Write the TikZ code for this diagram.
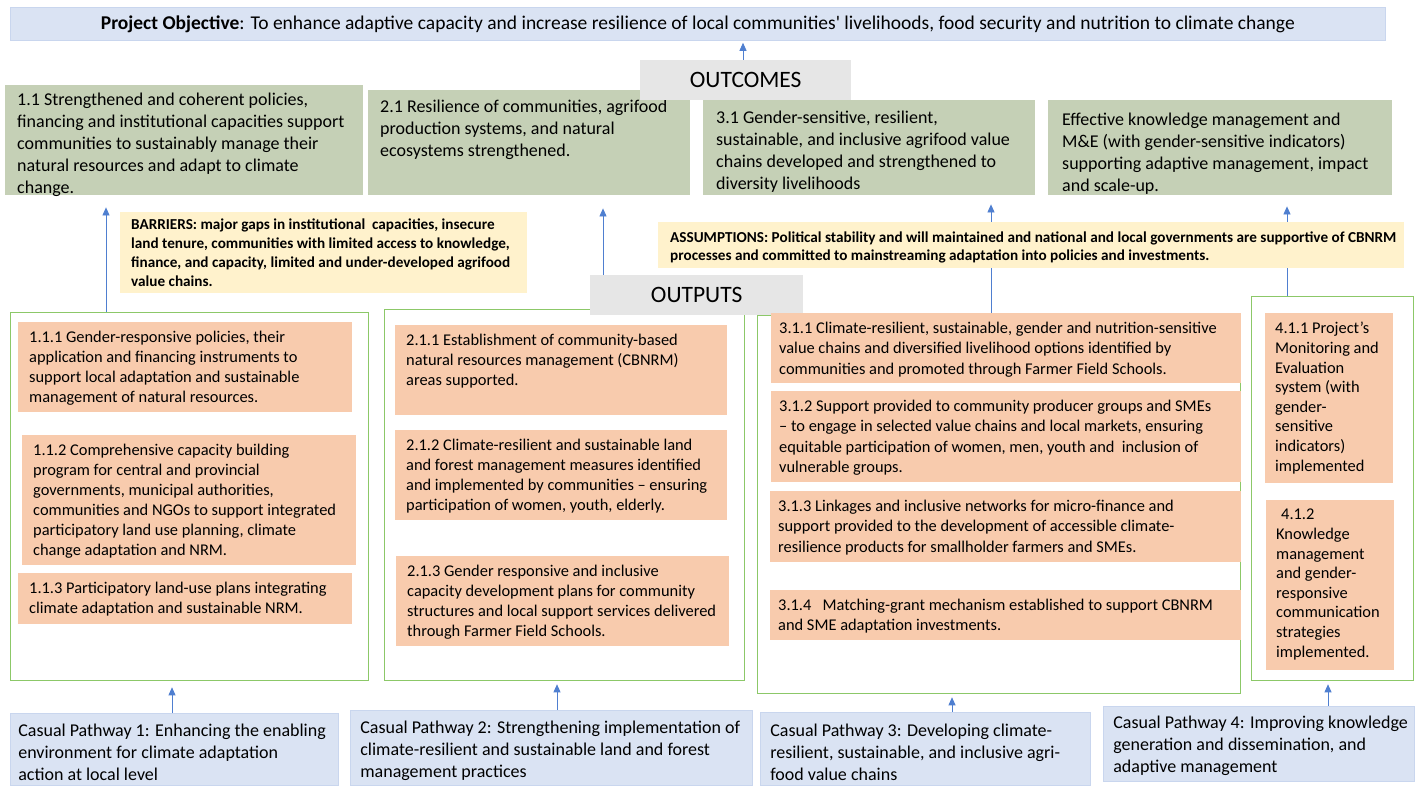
\documentclass[tikz,border=0pt]{standalone}
\usepackage{fontspec}
\setmainfont{Carlito}
\newfontfamily\plainq{Carlito}[Ligatures=ResetAll]
\usetikzlibrary{arrows.meta,calc}
\definecolor{objblue}{HTML}{DAE3F3}
\definecolor{objedge}{HTML}{C9D6EE}
\definecolor{outgreen}{HTML}{C5D0B6}
\definecolor{hdrgray}{HTML}{E6E6E6}
\definecolor{outorange}{HTML}{F8CBAD}
\definecolor{noteyellow}{HTML}{FFF2CC}
\definecolor{grpgreen}{HTML}{8CC868}
\definecolor{arrblue}{HTML}{4F7FD0}
\pgfdeclarelayer{back}\pgfdeclarelayer{bg}\pgfsetlayers{back,bg,main}
% style, name, x, y, w, h, padx, pady, text
\newcommand\bx[9]{\node[#1,anchor=north west,inner xsep=#7pt,inner ysep=#8pt] (#2) at (#3,#4)
 {\parbox[t][\dimexpr #6pt-#8pt-#8pt\relax][t]{\dimexpr #5pt-#7pt-#7pt\relax}{\begin{tabular}[t]{@{}l@{}}#9\end{tabular}}};}
\begin{document}
\begin{tikzpicture}[x=1pt,y=-1pt,
  objbox/.style={fill=objblue,draw=objedge,line width=0.8pt,inner sep=0pt,anchor=north west,font=\fontsize{19.5}{23}\selectfont},
  outcbox/.style={fill=outgreen,font=\fontsize{18}{22}\selectfont},
  hdrbox/.style={fill=hdrgray,inner sep=0pt,anchor=north west,font=\fontsize{23.5}{27}\selectfont},
  notebox/.style={fill=noteyellow,font=\fontsize{15.2}{19}\selectfont\bfseries},
  noteboxb/.style={fill=noteyellow,font=\fontsize{15.2}{18}\selectfont\bfseries},
  outpbox/.style={fill=outorange,font=\fontsize{16.4}{20}\selectfont},
  outpboxb/.style={fill=outorange,font=\fontsize{16.4}{20.3}\selectfont},
  outpboxc/.style={fill=outorange,font=\fontsize{16.4}{19.6}\selectfont},
  grpbox/.style={draw=grpgreen,line width=1.3pt,inner sep=0pt,anchor=north west},
  pathbox/.style={fill=objblue,draw=objedge,line width=0.6pt,font=\fontsize{18}{22}\selectfont},
  arr/.style={draw=arrblue,line width=0.8pt,-{Triangle[width=7pt,length=8pt]}}
]
\useasboundingbox (0,0) rectangle (1424,785);
\begin{pgfonlayer}{back}
\fill[white] (0,0) rectangle (1424,785);
\end{pgfonlayer}

% objective
\node[objbox,minimum width=1375pt,minimum height=33pt] (obj) at (10,7)
  {\textbf{Project Objective}: To enhance adaptive capacity and increase resilience of local communities{\plainq'} livelihoods, food security and nutrition to climate change\hspace{10pt}};

% outcomes
\bx{outcbox}{o11}{5}{85}{358}{110}{12}{5}{1.1 Strengthened and coherent policies,\\ financing and institutional capacities support\\ communities to sustainably manage their\\ natural resources and adapt to climate\\ change.}
\bx{outcbox}{o21}{368}{90}{322}{105}{12}{7}{2.1 Resilience of communities, agrifood\\ production systems, and natural\\ ecosystems strengthened.}
\bx{outcbox}{o31}{703}{100}{332}{95}{13}{8}{3.1 Gender-sensitive, resilient,\\ sustainable, and inclusive agrifood value\\ chains developed and strengthened to\\ diversity livelihoods}
\bx{outcbox}{o4}{1048}{100}{344}{95}{14}{10}{Effective knowledge management and\\ M\&E (with gender-sensitive indicators)\\ supporting adaptive management, impact\\ and scale-up.}
\node[hdrbox,minimum width=211pt,minimum height=40pt] (outc) at (640,60) {OUTCOMES};

% barriers / assumptions
\bx{notebox}{barr}{120}{212}{407}{81}{11}{4}{BARRIERS: major gaps in institutional\ \ capacities, insecure\\ land tenure, communities with limited access to knowledge,\\ finance, and capacity, limited and under-developed agrifood\\ value chains.}
\bx{noteboxb}{assum}{658}{222}{746}{46}{12}{8}{ASSUMPTIONS: Political stability and will maintained and national and local governments are supportive of CBNRM\\ processes and committed to mainstreaming adaptation\ into policies and investments.}

% output groups
\node[grpbox,minimum width=358pt,minimum height=368pt] (g1) at (10,312) {};
\node[grpbox,minimum width=360pt,minimum height=371pt] (g2) at (384,309) {};
\node[grpbox,minimum width=483pt,minimum height=378pt] (g3) at (757,315) {};
\node[grpbox,minimum width=162pt,minimum height=384pt] (g4) at (1251,296) {};
\node[hdrbox,minimum width=213pt,minimum height=40pt] (outp) at (590,275) {OUTPUTS};

% outputs
\bx{outpbox}{p111}{18}{322}{334}{90}{11}{6}{1.1.1 Gender-responsive policies, their\\ application and financing instruments to\\ support local adaptation and sustainable\\ management of natural resources.}
\bx{outpbox}{p112}{22}{435}{334}{130}{11}{6}{1.1.2 Comprehensive capacity building\\ program for central and provincial\\ governments, municipal authorities,\\ communities and NGOs to support integrated\\ participatory land use planning, climate\\ change adaptation and NRM.}
\bx{outpbox}{p113}{18}{573}{334}{51}{11}{6}{1.1.3 Participatory land-use plans integrating\\ climate adaptation and sustainable NRM.}
\bx{outpbox}{p211}{395}{325}{332}{90}{11}{6}{2.1.1 Establishment of community-based\\ natural resources management (CBNRM)\\ areas supported.}
\bx{outpbox}{p212}{395}{430}{332}{90}{11}{6}{2.1.2 Climate-resilient and sustainable land\\ and forest management measures identified\\ and implemented by communities -- ensuring\\ participation of women, youth, elderly.}
\bx{outpbox}{p213}{396}{556}{333}{90}{11}{6}{2.1.3 Gender responsive and inclusive\\ capacity development plans for community\\ structures and local support services delivered\\ through Farmer Field Schools.}
\bx{outpboxb}{p311}{771}{313}{470}{70}{8}{6}{3.1.1 Climate-resilient, sustainable, gender and nutrition-sensitive\\ value chains and diversified livelihood options identified by\\ communities and promoted through Farmer Field Schools.}
\bx{outpboxb}{p312}{771}{391}{470}{91}{8}{6}{3.1.2 Support provided to community producer groups and SMEs\\ -- to engage in selected value chains and local markets, ensuring\\ equitable participation of women, men, youth and\ \ inclusion of\\ vulnerable groups.}
\bx{outpboxb}{p313}{770}{491}{471}{71}{8}{6}{3.1.3 Linkages and inclusive networks for micro-finance and\\ support provided to the development of accessible climate-\\ resilience products for smallholder farmers and SMEs.}
\bx{outpboxb}{p314}{770}{590}{471}{50}{8}{6}{3.1.4\ \ \ Matching-grant mechanism established to support CBNRM\\ and SME adaptation investments.}
\bx{outpboxc}{p411}{1265}{313}{128}{170}{10}{7}{4.1.1 Project’s\\ Monitoring and\\ Evaluation\\ system (with\\ gender-\\ sensitive\\ indicators)\\ implemented}
\bx{outpboxc}{p412}{1266}{500}{128}{170}{10}{6}{\hspace{5pt}4.1.2\\ Knowledge\\ management\\ and gender-\\ responsive\\ communication\\ strategies\\ implemented.}

% causal pathways
\bx{pathbox}{cp1}{10}{713}{328}{72}{8}{8}{Casual Pathway 1: Enhancing the enabling\\ environment for climate adaptation\\ action at local level}
\bx{pathbox}{cp2}{350}{710}{402}{75}{10}{8}{Casual Pathway 2: Strengthening implementation of\\ climate-resilient and sustainable land and forest\\ management practices}
\bx{pathbox}{cp3}{760}{712}{330}{73}{10}{9}{Casual Pathway 3: Developing climate-\\ resilient, sustainable, and inclusive agri-\\ food value chains}
\bx{pathbox}{cp4}{1103}{706}{311}{75}{10}{7}{Casual Pathway 4: Improving knowledge\\ generation and dissemination, and\\ adaptive management}

% connector end points
\coordinate (a0s) at ($(outc.north west)+(103,0)$);
\coordinate (a0e) at (a0s |- obj.south);
\coordinate (a1s) at ($(g1.north west)+(96,0)$);
\coordinate (a1e) at (a1s |- o11.south);
\coordinate (a2s) at ($(outp.north west)+(13,0)$);
\coordinate (a2e) at (a2s |- o21.south);
\coordinate (a3s) at ($(p311.north west)+(220,0)$);
\coordinate (a3e) at (a3s |- o31.south);
\coordinate (a4s) at ($(g4.north west)+(36,0)$);
\coordinate (a4e) at (a4s |- o4.south);
\coordinate (b1s) at ($(cp1.north west)+(162,0)$);
\coordinate (b1e) at (b1s |- g1.south);
\coordinate (b2s) at ($(cp2.north west)+(207,0)$);
\coordinate (b2e) at (b2s |- g2.south);
\coordinate (b3s) at ($(cp3.north west)+(192,0)$);
\coordinate (b3e) at (b3s |- g3.south);
\coordinate (b4s) at ($(cp4.north west)+(225,0)$);
\coordinate (b4e) at (b4s |- g4.south);

% connectors
\begin{pgfonlayer}{bg}
\draw[arr,shorten >=2pt] (a0s) -- (a0e);
\draw[arr,shorten >=12pt] (a1s) -- (a1e);
\draw[arr,shorten >=13pt] (a2s) -- (a2e);
\draw[arr,shorten >=9pt] (a3s) -- (a3e);
\draw[arr,shorten >=11pt] (a4s) -- (a4e);
\draw[arr,shorten >=6pt] (b1s) -- (b1e);
\draw[arr,shorten >=3pt] (b2s) -- (b2e);
\draw[arr,shorten >=3pt] (b3s) -- (b3e);
\draw[arr,shorten >=3pt] (b4s) -- (b4e);
\end{pgfonlayer}
\end{tikzpicture}
\end{document}
